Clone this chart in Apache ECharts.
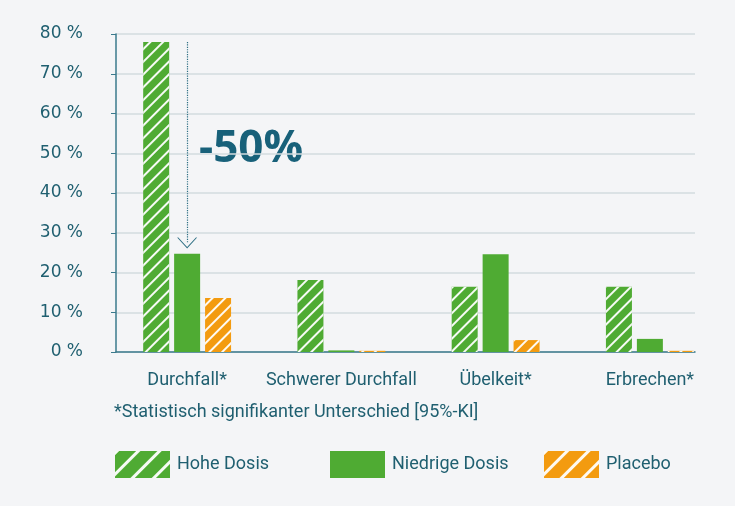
<!DOCTYPE html>
<html>
<head>
<meta charset="utf-8">
<script src="https://cdn.jsdelivr.net/npm/echarts@6/dist/echarts.min.js"></script>
<style>
  html, body { margin: 0; padding: 0; background: #f4f5f7; }
  #chart { width: 735px; height: 506px; }
</style>
</head>
<body>
<div id="chart"></div>
<script>
// data
var categories = ['Durchfall*', 'Schwerer Durchfall', 'Übelkeit*', 'Erbrechen*']
var hoheDosis = [78, 18.1, 16.4, 16.4]
var niedrigeDosis = [24.7, 0.4, 24.6, 3.3]
var placebo = [13.6, 0.3, 3, 0.3]
var yTicks = [0, 10, 20, 30, 40, 50, 60, 70, 80]
var arrowFrom = 78
var arrowTo = 27.4

var teal = '#1f5f70'
var green = '#4fab33'
var orange = '#f39b10'
var labelFont = 'Roboto'

var stripes = {
  symbol: 'rect',
  symbolSize: 1,
  color: 'rgba(255,255,255,0.95)',
  dashArrayX: [1, 0],
  dashArrayY: [1.4, 6.5],
  rotation: -Math.PI / 4
}
var wideStripes = {
  symbol: 'rect',
  symbolSize: 1,
  color: 'rgba(255,255,255,0.95)',
  dashArrayX: [1, 0],
  dashArrayY: [2.5, 12],
  rotation: -Math.PI / 4
}

var myChart = echarts.init(document.getElementById('chart'))

function legendAt(left, name, color, decal) {
  return {
    left: left, top: 451, padding: 0,
    itemWidth: 55, itemHeight: 27, itemGap: 0,
    textStyle: { color: teal, fontFamily: labelFont, fontSize: 18, padding: [3, 0, 0, 2] },
    data: [{ name: name, icon: 'rect', itemStyle: { color: color, decal: decal } }]
  }
}

var option = {
  backgroundColor: '#f4f5f7',
  animation: false,
  grid: [
    { left: 116, right: 40, top: 34, bottom: 154 },
    { left: 110, right: 8, top: 34, bottom: 154 }
  ],
  xAxis: [
    {
      gridIndex: 0, type: 'category', data: categories,
      axisLine: { lineStyle: { color: '#3b7a8c', width: 1.5 } },
      axisTick: { show: false }, axisLabel: { show: false }
    },
    {
      gridIndex: 1, type: 'category', data: categories,
      axisLine: { show: false }, axisTick: { show: false },
      axisLabel: { color: teal, fontFamily: labelFont, fontSize: 18, margin: 19, interval: 0 }
    }
  ],
  yAxis: [
    {
      gridIndex: 0, type: 'value', min: yTicks[0], max: yTicks[yTicks.length - 1], interval: 10,
      axisLine: { show: true, lineStyle: { color: '#3b7a8c', width: 1.5 } },
      axisTick: { show: true, length: 5, lineStyle: { color: '#3b7a8c' } },
      splitLine: { lineStyle: { color: '#d3dbdf', width: 1.5 } },
      axisLabel: {
        color: teal, fontFamily: 'DejaVu Sans', fontSize: 17, margin: 33,
        formatter: function (v) { return v + ' %' }
      }
    },
    {
      gridIndex: 1, type: 'value', min: yTicks[0], max: yTicks[yTicks.length - 1], interval: 10,
      show: false, splitLine: { show: false }
    }
  ],
  legend: [
    legendAt(115, 'Hohe Dosis', green, wideStripes),
    legendAt(330, 'Niedrige Dosis', green, null),
    legendAt(544, 'Placebo', orange, wideStripes)
  ],
  graphic: [
    {
      type: 'text', left: 199, top: 127,
      style: { text: '-50%', fill: '#18617a', font: 'bold 44px "Open Sans"' }
    },
    {
      type: 'text', left: 114, top: 403,
      style: { text: '*Statistisch signifikanter Unterschied [95%-KI]', fill: teal, font: '18px Roboto' }
    }
  ],
  series: [
    {
      name: 'Hohe Dosis', type: 'bar', xAxisIndex: 1, yAxisIndex: 1,
      data: hoheDosis, barWidth: 26, barGap: '19%',
      itemStyle: { color: green, decal: stripes }
    },
    {
      name: 'Niedrige Dosis', type: 'bar', xAxisIndex: 1, yAxisIndex: 1,
      data: niedrigeDosis, barWidth: 26, barGap: '19%',
      itemStyle: { color: green },
      markLine: {
        silent: true,
        symbol: ['none', 'path://M0,10.5 L10,0 L20,10.5 L18.8,10.5 L10,1.6 L1.2,10.5 Z'],
        symbolSize: [20, 11],
        label: { show: false },
        lineStyle: { type: 'dotted', color: '#2e6f84', width: 1.2 },
        data: [[
          { coord: [0, arrowFrom] },
          { coord: [0, arrowTo] }
        ]]
      }
    },
    {
      name: 'Placebo', type: 'bar', xAxisIndex: 1, yAxisIndex: 1,
      data: placebo, barWidth: 26, barGap: '19%',
      itemStyle: { color: orange, decal: stripes }
    }
  ]
}

myChart.setOption(option)
</script>
</body>
</html>
